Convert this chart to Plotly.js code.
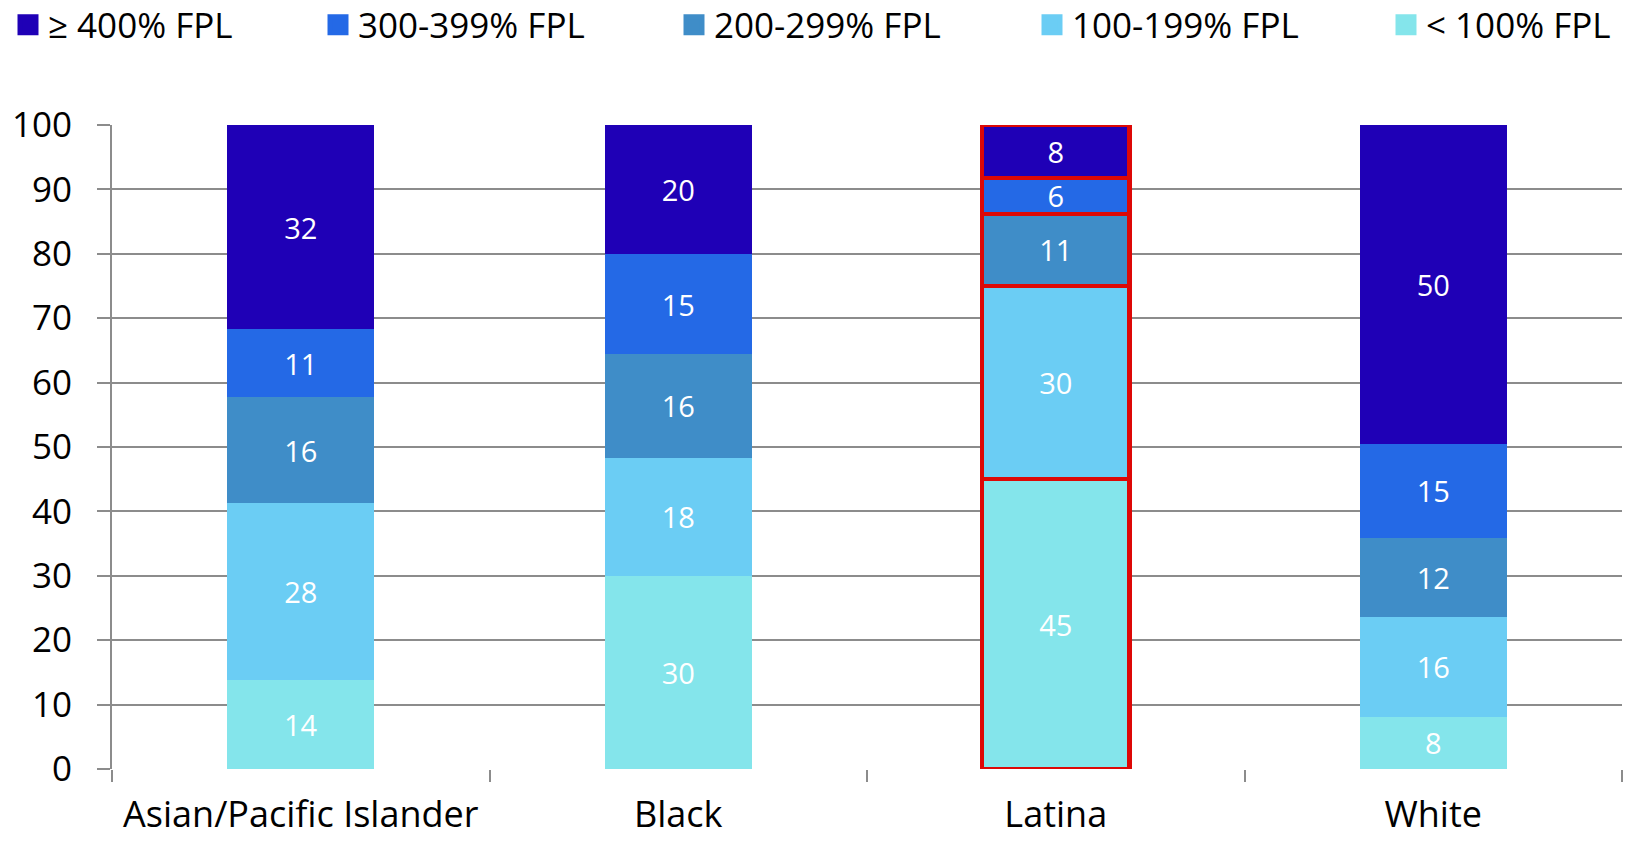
<!DOCTYPE html>
<html>
<head>
<meta charset="utf-8">
<script src="https://cdn.plot.ly/plotly-3.0.1.min.js"></script>
<style>html,body{margin:0;padding:0;background:#fff;}#chart{width:1636px;height:842px;}</style>
</head>
<body>
<div id="chart"></div>
<script>
const categories = ["Asian/Pacific Islander", "Black", "Latina", "White"];
const seriesNames = ["< 100% FPL", "100-199% FPL", "200-299% FPL", "300-399% FPL", "\u2265 400% FPL"];
const below100 = [13.8, 30.0, 45.0, 8.1];
const fpl100to199 = [27.5, 18.3, 30.0, 15.5];
const fpl200to299 = [16.4, 16.2, 11.2, 12.3];
const fpl300to399 = [10.6, 15.4, 5.6, 14.6];
const fpl400plus = [31.7, 20.1, 8.2, 49.5];
const seriesColors = ["#84E5EB", "#6BCDF4", "#3F8DC8", "#2469E6", "#1F00B6"];
const yTicks = [0, 10, 20, 30, 40, 50, 60, 70, 80, 90, 100];
const highlighted = "Latina";

const seriesValues = [below100, fpl100to199, fpl200to299, fpl300to399, fpl400plus];
const FONT = "'Open Sans', Lato, sans-serif";

const W = 1636, H = 842;
const M = {l: 112, r: 14, t: 125, b: 73};
const plotW = W - M.l - M.r, plotH = H - M.t - M.b;

const traces = seriesValues.map((vals, i) => ({
  type: "bar",
  name: seriesNames[i],
  x: categories,
  y: vals,
  width: 0.39,
  showlegend: false,
  marker: {
    color: seriesColors[i],
    line: {
      color: categories.map(c => c === highlighted ? "#DD0806" : "rgba(0,0,0,0)"),
      width: categories.map(c => c === highlighted ? 4.5 : 0)
    }
  },
  texttemplate: "%{y:.0f}",
  textposition: "inside",
  insidetextanchor: "middle",
  textangle: 0,
  constraintext: "none",
  insidetextfont: {family: FONT, size: 29, color: "#ffffff"},
  hoverinfo: "none"
}));

// legend entries (one legend box per series, left to right: >=400 ... <100)
const legendOrder = [4, 3, 2, 1, 0];
const legendTextStarts = [48, 358, 714, 1072, 1426];
const layoutLegends = {};
legendOrder.forEach((si, k) => {
  const lname = k === 0 ? "legend" : "legend" + (k + 1);
  traces.push({
    type: "scatter",
    mode: "markers",
    name: seriesNames[si],
    x: [null],
    y: [null],
    legend: lname,
    showlegend: true,
    marker: {symbol: "square", size: 16, color: seriesColors[si], line: {color: seriesColors[si], width: 5}},
    hoverinfo: "none"
  });
  const L = legendTextStarts[k] - 40;
  layoutLegends[lname] = {
    x: (L - M.l) / plotW,
    xanchor: "left",
    y: 1 + (M.t - 25) / plotH,
    yanchor: "middle",
    orientation: "h",
    bgcolor: "rgba(0,0,0,0)",
    font: {family: FONT, size: 35, color: "#000000"},
    itemclick: false,
    itemdoubleclick: false
  };
});

const layout = Object.assign({
  width: W,
  height: H,
  barmode: "stack",
  paper_bgcolor: "#ffffff",
  plot_bgcolor: "#ffffff",
  margin: Object.assign({autoexpand: false}, M),
  font: {family: FONT, size: 35, color: "#000000"},
  showlegend: true,
  xaxis: {
    type: "category",
    categoryorder: "array",
    categoryarray: categories,
    showgrid: false,
    showline: false,
    ticks: "outside",
    tickson: "boundaries",
    ticklen: 12,
    tickwidth: 2,
    tickcolor: "#8c8c8c",
    ticklabelstandoff: 21,
    tickfont: {family: FONT, size: 36, color: "#000000"},
    zeroline: false
  },
  yaxis: {
    range: [0, 100],
    tickvals: yTicks,
    ticktext: yTicks.map(String),
    showgrid: true,
    gridcolor: "#8c8c8c",
    gridwidth: 2,
    showline: true,
    linecolor: "#8c8c8c",
    linewidth: 2,
    ticks: "outside",
    ticklen: 13,
    tickwidth: 2,
    tickcolor: "#8c8c8c",
    ticklabelstandoff: 18,
    tickfont: {family: FONT, size: 35, color: "#000000"},
    zeroline: false,
    fixedrange: true
  }
}, layoutLegends);

Plotly.newPlot("chart", traces, layout, {displayModeBar: false, staticPlot: true});
</script>
</body>
</html>
